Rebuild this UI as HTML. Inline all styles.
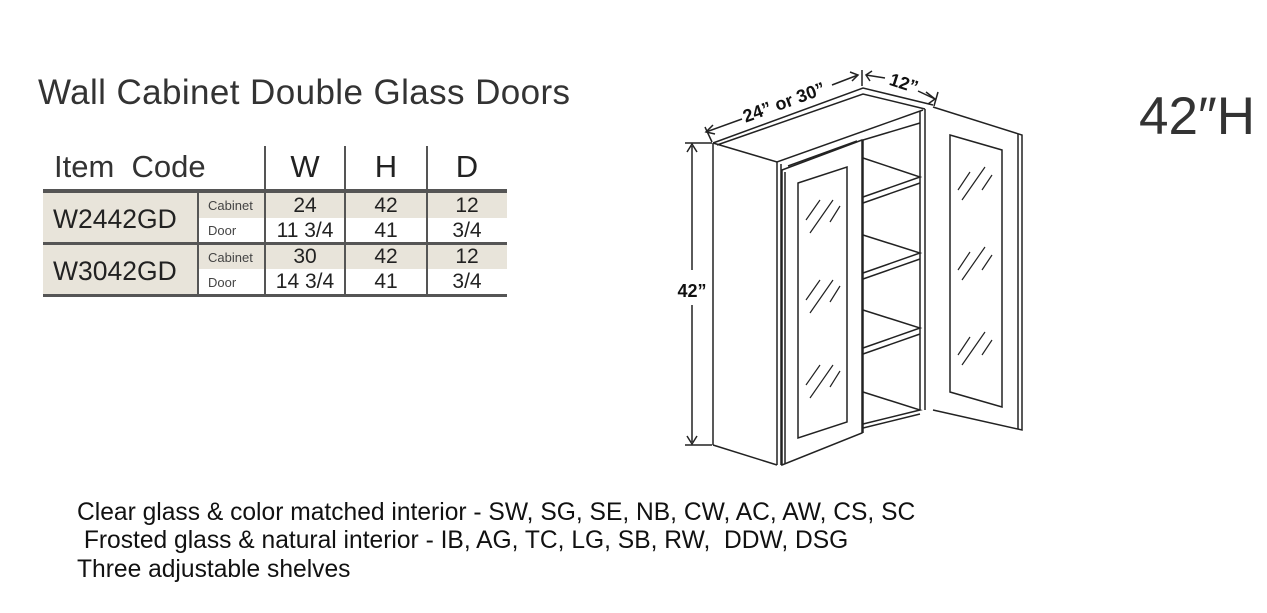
<!DOCTYPE html>
<html><head><style>
body{margin:0;width:1267px;height:613px;background:#fff;overflow:hidden;position:relative;font-family:"Liberation Sans",sans-serif;color:#222}
.a{position:absolute;white-space:nowrap}
.c{position:absolute;text-align:center}
</style></head><body>
<div class="a" style="left:38px;top:73px;font-size:35px;color:#333;letter-spacing:0.4px">Wall Cabinet Double Glass Doors</div>
<div class="a" style="left:1139px;top:86px;font-size:53px;color:#333">42″H</div>
<!-- table -->
<div class="a" style="left:54px;top:149px;font-size:31px;color:#333">Item&nbsp; Code</div>
<div class="c" style="left:265px;width:80px;top:149px;font-size:31px">W</div>
<div class="c" style="left:345px;width:82px;top:149px;font-size:31px">H</div>
<div class="c" style="left:427px;width:80px;top:149px;font-size:31px">D</div>
<div class="a" style="left:264px;top:146px;width:2px;height:45px;background:#555"></div>
<div class="a" style="left:344px;top:146px;width:2px;height:45px;background:#555"></div>
<div class="a" style="left:426px;top:146px;width:2px;height:45px;background:#555"></div>
<div class="a" style="left:43px;top:189px;width:464px;height:4px;background:#555"></div>
<div class="a" style="left:43px;top:193px;width:464px;height:25px;background:#e8e4da"></div>
<div class="a" style="left:43px;top:218px;width:154px;height:24px;background:#e8e4da"></div>
<div class="a" style="left:43px;top:242px;width:464px;height:3px;background:#555"></div>
<div class="a" style="left:43px;top:245px;width:464px;height:24px;background:#e8e4da"></div>
<div class="a" style="left:43px;top:269px;width:154px;height:25px;background:#e8e4da"></div>
<div class="a" style="left:43px;top:294px;width:464px;height:3px;background:#555"></div>
<div class="a" style="left:197px;top:193px;width:2px;height:101px;background:#555"></div>
<div class="a" style="left:264px;top:193px;width:2px;height:101px;background:#555"></div>
<div class="a" style="left:344px;top:193px;width:2px;height:101px;background:#555"></div>
<div class="a" style="left:426px;top:193px;width:2px;height:101px;background:#555"></div>
<div class="a" style="left:53px;top:204px;font-size:26.5px">W2442GD</div>
<div class="a" style="left:53px;top:256px;font-size:26.5px">W3042GD</div>
<div class="a" style="left:208px;top:198px;font-size:13px;color:#444">Cabinet</div>
<div class="a" style="left:208px;top:223px;font-size:13px;color:#444">Door</div>
<div class="a" style="left:208px;top:250px;font-size:13px;color:#444">Cabinet</div>
<div class="a" style="left:208px;top:275px;font-size:13px;color:#444">Door</div>
<div class="c" style="left:265px;width:80px;top:194px;font-size:21px">24</div>
<div class="c" style="left:345px;width:82px;top:194px;font-size:21px">42</div>
<div class="c" style="left:427px;width:80px;top:194px;font-size:21px">12</div>
<div class="c" style="left:265px;width:80px;top:219px;font-size:21px">11 3/4</div>
<div class="c" style="left:345px;width:82px;top:219px;font-size:21px">41</div>
<div class="c" style="left:427px;width:80px;top:219px;font-size:21px">3/4</div>
<div class="c" style="left:265px;width:80px;top:245px;font-size:21px">30</div>
<div class="c" style="left:345px;width:82px;top:245px;font-size:21px">42</div>
<div class="c" style="left:427px;width:80px;top:245px;font-size:21px">12</div>
<div class="c" style="left:265px;width:80px;top:270px;font-size:21px">14 3/4</div>
<div class="c" style="left:345px;width:82px;top:270px;font-size:21px">41</div>
<div class="c" style="left:427px;width:80px;top:270px;font-size:21px">3/4</div>
<!-- bottom text -->
<div class="a" style="left:77px;top:499px;font-size:24.6px;color:#111">Clear glass &amp; color matched interior - SW, SG, SE, NB, CW, AC, AW, CS, SC</div>
<div class="a" style="left:77px;top:527px;font-size:24.6px;color:#111">&nbsp;Frosted glass &amp; natural interior - IB, AG, TC, LG, SB, RW,&nbsp; DDW, DSG</div>
<div class="a" style="left:77px;top:556px;font-size:24.6px;color:#111">Three adjustable shelves</div>
<svg class="a" style="left:0;top:0" width="1267" height="613" fill="none" stroke="#222" stroke-width="1.5">
<line x1="685" y1="143" x2="712" y2="143"/><line x1="685" y1="445" x2="712" y2="445"/>
<line x1="692" y1="146" x2="692" y2="270"/><line x1="692" y1="305" x2="692" y2="442"/>
<path d="M687 152 L692 144 L697 152 M687 436 L692 444 L697 436"/>
<line x1="706" y1="132" x2="742" y2="119"/><line x1="832" y1="85" x2="858" y2="75"/>
<path d="M713 125 L706 132 L715 134 M850 72 L858 75 L852 81"/>
<line x1="866" y1="75" x2="885" y2="78"/><line x1="918" y1="91" x2="935" y2="99"/>
<path d="M872 71 L866 75 L870 81 M926 92 L935 99 L928 104"/>
<line x1="862" y1="70" x2="862" y2="86"/><line x1="938" y1="92" x2="934" y2="106"/>
<line x1="705" y1="127" x2="712" y2="142"/>
<text x="692" y="297" font-family="Liberation Sans" font-weight="bold" font-size="18" fill="#111" stroke="none" text-anchor="middle">42”</text>
<text transform="translate(786,108) rotate(-20)" font-family="Liberation Sans" font-weight="bold" font-size="18" fill="#111" stroke="none" text-anchor="middle">24” or 30”</text>
<text transform="translate(902,89) rotate(18)" font-family="Liberation Sans" font-weight="bold" font-size="18" fill="#111" stroke="none" text-anchor="middle">12”</text>
<path d="M713 143 L863 88 L933 105"/>
<path d="M717 145 L863 94 L925 109"/>
<path d="M713 143 L777 162 L923 110"/>
<line x1="713" y1="143" x2="713" y2="445"/>
<line x1="713" y1="445" x2="777" y2="465"/>
<line x1="777" y1="162" x2="777" y2="465"/>
<line x1="781" y1="164" x2="781" y2="465"/>
<line x1="920" y1="111" x2="920" y2="410"/><line x1="925" y1="109" x2="925" y2="410"/>
<line x1="863" y1="140" x2="863" y2="433"/>
<path d="M863 140 L920 123"/>
<path d="M863 158 L920 177 L863 197 M863 203 L920 183"/>
<path d="M863 235 L920 253 L863 273 M863 279 L920 259"/>
<path d="M863 310 L920 328 L863 348 M863 354 L920 334"/>
<path d="M863 392 L920 410 L863 424 M863 428 L920 414"/>
<path d="M782 170 L862 140 L862 433 L782 465 Z"/>
<path d="M785 172 L785 464"/>
<path d="M798 183 L847 167 L847 422 L798 438 Z"/>
<path d="M788 166 L857 141"/>
<path d="M933 107 L1022 135 L1022 430 L933 410"/>
<line x1="1018" y1="134" x2="1018" y2="429"/>
<path d="M950 135 L1002 150 L1002 407 L950 392 Z"/>
<g stroke-width="1.2">
<path d="M806 220 L820 200 M810 233 L833 200 M830 222 L840 206"/>
<path d="M806 300 L820 280 M810 313 L833 280 M830 302 L840 286"/>
<path d="M806 385 L820 365 M810 398 L833 365 M830 387 L840 371"/>
<path d="M958 190 L970 172 M962 200 L985 167 M982 190 L992 175"/>
<path d="M958 270 L970 252 M962 280 L985 247 M982 270 L992 255"/>
<path d="M958 355 L970 337 M962 365 L985 332 M982 355 L992 340"/>
</g>
</svg>
</body></html>
